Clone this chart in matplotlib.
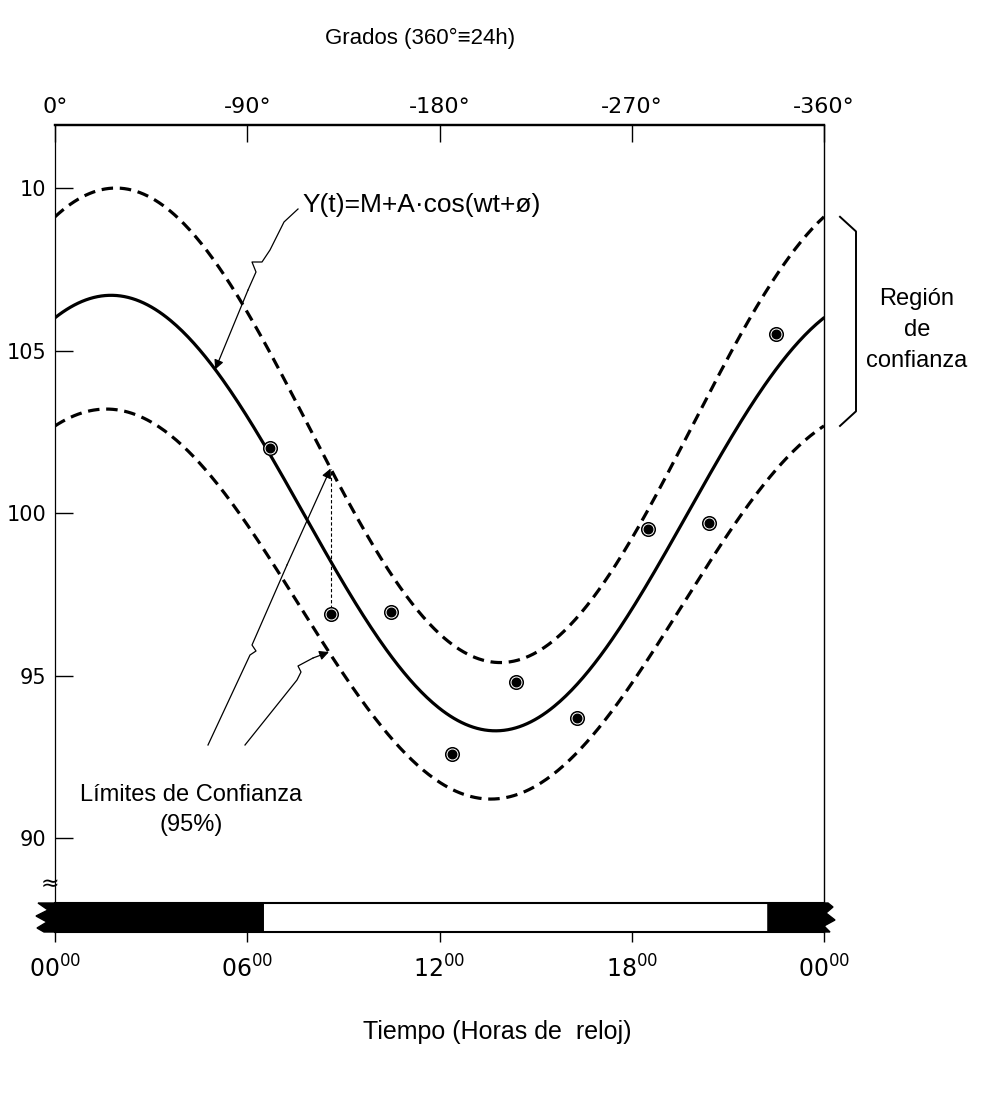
import numpy as np
import matplotlib.pyplot as plt
from matplotlib.patches import Polygon, Rectangle

W, H = 981, 1098

# measured samples (clock hour, value)
hours = [6.7, 8.6, 10.5, 12.4, 14.4, 16.3, 18.5, 20.4, 22.5]
values = [102.0, 96.9, 96.95, 92.6, 94.8, 93.7, 99.5, 99.7, 105.5]

# cosinor curves: fitted curve, upper and lower 95% limits
mesor = [100.0, 102.7, 97.2]
amplitude = [6.7, 7.3, 6.0]
peak_hour = [1.75, 1.9, 1.6]
curve_style = ["-", "--", "--"]

# dark phases of the light/dark bar (hours)
dark_periods = [(0.0, 6.5), (22.25, 24.0)]

hour_ticks = [0, 6, 12, 18, 24]
hour_labels = ["00", "06", "12", "18", "00"]
degree_ticks = [0, -90, -180, -270, -360]
degree_labels = ["0°", "-90°", "-180°", "-270°", "-360°"]
y_ticks = [90, 95, 100, 105, 110]
y_labels = ["90", "95", "100", "105", "10"]

plt.rcParams["font.family"] = ["Liberation Sans", "DejaVu Sans"]

fig = plt.figure(figsize=(W / 100, H / 100), dpi=100)
ax = fig.add_axes([55 / W, 1 - 932 / H, (824 - 55) / W, (932 - 125) / H])
ax.set_xlim(0, 24)
ax.set_ylim(87.11, 111.94)


def px(x, y):
    return ax.transData.inverted().transform((x, H - y))


def cosinor(t, i):
    return mesor[i] + amplitude[i] * np.cos(2 * np.pi * (t - peak_hour[i]) / 24)


t = np.linspace(0, 24, 400)
for i in range(3):
    if curve_style[i] == "-":
        ax.plot(t, cosinor(t, i), color="black", lw=2.3, solid_capstyle="round")
    else:
        ax.plot(t, cosinor(t, i), color="black", lw=2.3, dashes=(3.6, 2.1))

# data points: black dot with white ring
ax.scatter(hours, values, s=95, facecolor="white", edgecolor="black", lw=1.1, zorder=5)
ax.scatter(hours, values, s=38, color="black", zorder=6)

# spines and ticks
ax.spines["bottom"].set_visible(False)
ax.spines["left"].set_linewidth(0.9)
ax.spines["right"].set_linewidth(1.0)
ax.spines["top"].set_linewidth(1.6)
ax.set_yticks(y_ticks)
ax.set_yticklabels(y_labels, family="DejaVu Sans", fontsize=15)
ax.tick_params(axis="y", direction="in", length=13, width=1, pad=6)

ax.set_xticks(hour_ticks)
ax.set_xticklabels([f"${h}^{{00}}$" for h in hour_labels], fontsize=17)
ax.tick_params(axis="x", direction="out", length=7, width=1, pad=10)

top = ax.secondary_xaxis("top", functions=(lambda h: -h * 15, lambda d: -d / 15))
top.set_xticks(degree_ticks)
top.set_xticklabels(degree_labels, family="DejaVu Sans", fontsize=16)
top.tick_params(direction="in", length=12, width=1, pad=6)
top.spines["top"].set_linewidth(1.6)

# light / dark bar
b_top = px(0, 903)[1]
b_bot = px(0, 932)[1]
ax.add_patch(Rectangle((0, b_bot), 24, b_top - b_bot, facecolor="white",
                       edgecolor="black", lw=1.5, clip_on=False, zorder=3))
left_jag = [(38, 903), (48, 910), (36, 916), (47, 922), (37, 928), (44, 932)]
right_jag = [(830, 932), (824, 926), (835, 920), (826, 913), (833, 907), (828, 903)]
for start, end in dark_periods:
    if start == 0:
        pts = [px(*p) for p in left_jag]
        pts += [(end, b_bot), (end, b_top)]
    else:
        pts = [(start, b_top), (start, b_bot)]
        pts += [px(*p) for p in right_jag]
    ax.add_patch(Polygon(pts, closed=True, color="black", clip_on=False, zorder=4))

# axis break on the left spine
bx, by = px(50, 884)
ax.text(bx, by, "≈", fontsize=16, ha="center", va="center", clip_on=False,
        family="DejaVu Sans")

# titles
fig.text(420 / W, 1 - 38 / H, "Grados (360°≡24h)", ha="center", va="center", fontsize=16)
fig.text(497 / W, 1 - 1032 / H, "Tiempo (Horas de  reloj)", ha="center", va="center",
         fontsize=18)

# formula label with wavy arrow onto fitted curve
fx, fy = px(302, 205)
ax.text(fx, fy, "Y(t)=M+A·cos(wt+ø)", fontsize=19, ha="left", va="center")
tip = (5.0, cosinor(5.0, 0))
path = [px(298, 209), px(284, 222), px(270, 250), px(262, 262), px(252, 262),
        px(256, 272), px(248, 290)]
xs, ys = zip(*path)
ax.plot(xs, ys, color="black", lw=0.9)
ax.annotate("", xy=tip, xytext=path[-1],
            arrowprops=dict(arrowstyle="-|>", color="black", lw=0.9,
                            mutation_scale=14, shrinkA=0, shrinkB=0))

# confidence limits label with arrows
lx, ly = px(191, 810)
ax.text(lx, ly, "Límites de Confianza\n(95%)", fontsize=17, ha="center", va="center",
        linespacing=1.45)
t2 = hours[1]
tip_up = (t2, cosinor(t2, 1))
tip_lo = (t2 - 0.05, cosinor(t2 - 0.05, 2))
path1 = [px(208, 745), px(250, 655), px(256, 651), px(252, 645), px(287, 565)]
path2 = [px(245, 745), px(297, 680), px(301, 672), px(298, 666), px(313, 658)]
for pth, tp in ((path1, tip_up), (path2, tip_lo)):
    xs, ys = zip(*pth)
    ax.plot(xs, ys, color="black", lw=0.9)
    ax.annotate("", xy=tp, xytext=pth[-1],
                arrowprops=dict(arrowstyle="-|>", color="black", lw=0.9,
                                mutation_scale=14, shrinkA=0, shrinkB=0))
ax.plot([t2, t2], [values[1], cosinor(t2, 1)], color="black", lw=0.8, dashes=(3, 2))

# confidence region bracket
b1 = cosinor(24, 1)
b2 = cosinor(24, 2)
bx0 = px(840, 0)[0]
bx1 = px(856, 0)[0]
dy = 0.45
ax.plot([bx0, bx1, bx1, bx0], [b1, b1 - dy, b2 + dy, b2], color="black", lw=1.4,
        clip_on=False)
rx, ry = px(917, 330)
ax.text(rx, ry, "Región\nde\nconfianza", fontsize=17, ha="center", va="center",
        linespacing=1.55)

fig.savefig("out.png", dpi=100)
